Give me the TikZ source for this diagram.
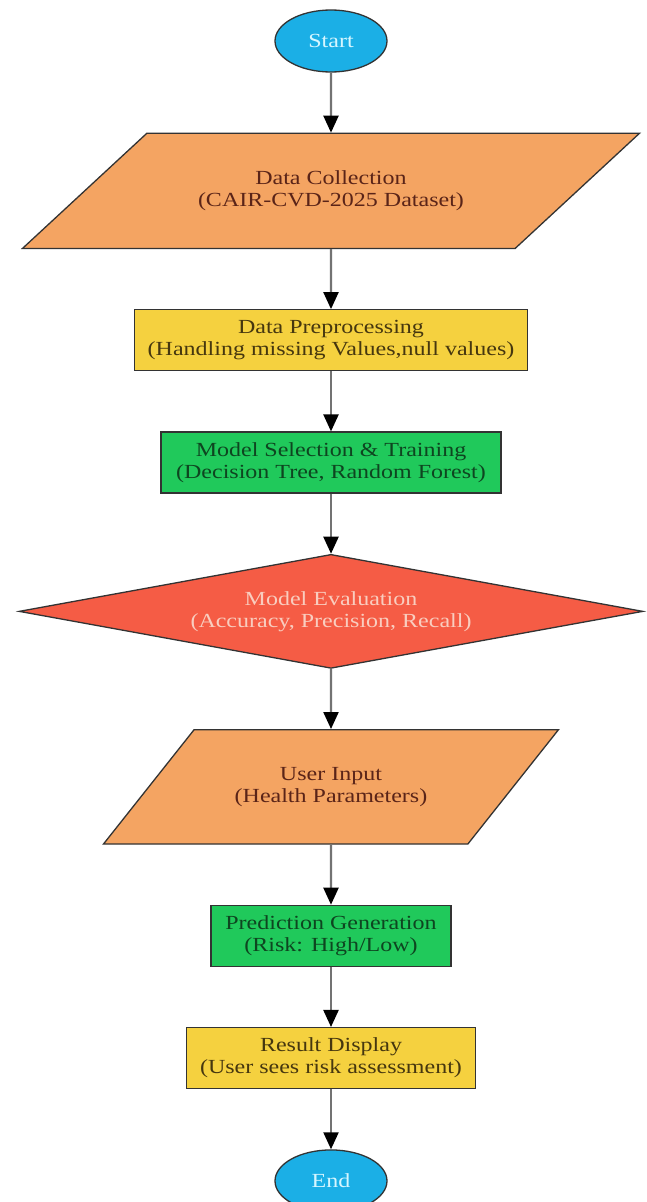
\documentclass[tikz,border=0pt]{standalone}
\usepackage{fontspec}
\setmainfont{Liberation Serif}[FakeStretch=1.2]
\usetikzlibrary{shapes.geometric, arrows.meta, positioning}
\definecolor{termblue}{HTML}{1BAFE6}
\definecolor{termtext}{HTML}{D6F6FF}
\definecolor{ioorange}{HTML}{F4A462}
\definecolor{iotext}{HTML}{5A2418}
\definecolor{procyellow}{HTML}{F5D13F}
\definecolor{proctext}{HTML}{46370F}
\definecolor{procgreen}{HTML}{20C95B}
\definecolor{greentext}{HTML}{0E4520}
\definecolor{evalred}{HTML}{F55C45}
\definecolor{evaltext}{HTML}{F9CDBF}
\tikzset{
    terminal/.style={ellipse, minimum width=112pt, minimum height=62pt, inner sep=0pt, align=center, draw=black!80, line width=1.3pt, fill=termblue, text=termtext, font=\fontsize{20}{22}\selectfont},
    inout/.style={trapezium, trapezium stretches body, inner xsep=0pt, inner ysep=37.5pt, align=center, draw=black!80, line width=1.3pt, fill=ioorange, text=iotext, font=\fontsize{20}{22}\selectfont},
    process/.style={rectangle, minimum height=61pt, inner sep=0pt, align=center, draw=black!80, line width=1.3pt, fill=procyellow, text=proctext, font=\fontsize{20}{22}\selectfont},
    decision/.style={diamond, aspect=5.47, minimum width=624pt, minimum height=114pt, inner sep=0pt, align=center, draw=black!80, line width=1.3pt, fill=evalred, text=evaltext, font=\fontsize{20}{22}\selectfont},
    arrow/.style={line width=2.2pt, draw=black!55, -{Triangle[length=17pt, width=15pt, color=black]}}
}
\begin{document}
\begin{tikzpicture}[x=1pt, y=-1pt, node distance=60pt]
    \useasboundingbox (0,0) rectangle (646,1202);
    \node (start) [terminal] at (331,41) {Start};
    \node (collect) [inout, below=of start, minimum width=617pt, trapezium left angle=42.8, trapezium right angle=137.2] {Data Collection\\(CAIR-CVD-2025 Dataset)};
    \node (prep) [process, below=of collect, minimum width=393pt] {Data Preprocessing\\(Handling missing Values,null values)};
    \node (train) [process, below=of prep, minimum width=340pt, fill=procgreen, text=greentext] {Model Selection \& Training\\(Decision Tree, Random Forest)};
    \node (eval) [decision, below=of train] {Model Evaluation\\(Accuracy, Precision, Recall)};
    \node (input) [inout, below=of eval, minimum width=455pt, trapezium left angle=51.6, trapezium right angle=128.4] {User Input\\(Health Parameters)};
    \node (predict) [process, below=of input, minimum width=240pt, fill=procgreen, text=greentext] {Prediction Generation\\(Risk: High/Low)};
    \node (result) [process, below=of predict, minimum width=289pt] {Result Display\\(User sees risk assessment)};
    \node (stop) [terminal, below=of result] {End};

    \draw [arrow] (start) -- (collect);
    \draw [arrow] (collect) -- (prep);
    \draw [arrow] (prep) -- (train);
    \draw [arrow] (train) -- (eval);
    \draw [arrow] (eval) -- (input);
    \draw [arrow] (input) -- (predict);
    \draw [arrow] (predict) -- (result);
    \draw [arrow] (result) -- (stop);
\end{tikzpicture}
\end{document}
